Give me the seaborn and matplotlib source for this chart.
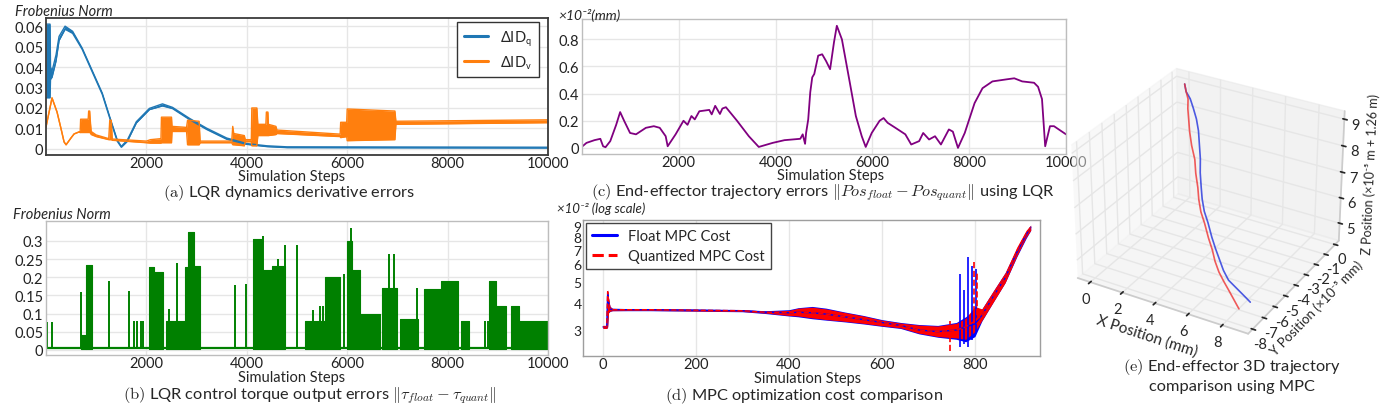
import matplotlib
matplotlib.use('Agg')
import matplotlib.pyplot as plt
import seaborn as sns

# ---------------- data ----------------
# (a) LQR dynamics derivative errors: envelopes (step, low, high)
dq_steps = [0, 80, 90, 120, 200, 260, 380, 530, 720, 920, 1120, 1300, 1420, 1500,
            1620, 1800, 2060, 2320, 2520, 2860, 3200, 3600, 4000, 4400, 4800, 10000]
dq_lo = [0.025, 0.025, 0.034, 0.035, 0.043, 0.053, 0.0585, 0.0565, 0.0487, 0.0377,
         0.0267, 0.0127, 0.0037, 0.0008, 0.0037, 0.0127, 0.0192, 0.0210, 0.0197,
         0.0143, 0.0095, 0.0047, 0.0022, 0.0011, 0.0006, 0.0004]
dq_hi = [0.061, 0.061, 0.040, 0.038, 0.046, 0.055, 0.0600, 0.0575, 0.0493, 0.0383,
         0.0273, 0.0133, 0.0043, 0.0012, 0.0043, 0.0133, 0.0198, 0.0220, 0.0203,
         0.0149, 0.0101, 0.0053, 0.0026, 0.0015, 0.0010, 0.0008]

dv_steps = [0, 120, 220, 300, 360, 400, 500, 560, 660, 680, 690, 840, 850, 870, 880,
            900, 1000, 1250, 1270, 1300, 1320, 2000, 2080, 2290, 2300, 2500, 2510,
            2800, 2820, 3050, 3070, 3700, 3720, 3740, 3950, 3970, 4090, 4100, 4200,
            4220, 4380, 4390, 4420, 4430, 4580, 4600, 5860, 5870, 5990, 6000, 6950,
            6970, 10000]
dv_lo = [0.0107, 0.0249, 0.018, 0.0098, 0.0034, 0.002, 0.0054, 0.0073, 0.0083, 0.008,
         0.008, 0.008, 0.008, 0.008, 0.008, 0.007, 0.006, 0.0045, 0.0045, 0.0045,
         0.0042, 0.003, 0.0028, 0.0028, 0.003, 0.003, 0.0085, 0.0085, 0.002, 0.002,
         0.003, 0.003, 0.002, 0.002, 0.0015, 0.0035, 0.0035, 0.0015, 0.0015, 0.0065,
         0.0065, 0.0065, 0.0065, 0.0065, 0.007, 0.0075, 0.006, 0.0055, 0.006, 0.004,
         0.0045, 0.012, 0.0128]
dv_hi = [0.0107, 0.0249, 0.018, 0.0098, 0.0034, 0.002, 0.0054, 0.0073, 0.0083, 0.008,
         0.0145, 0.0145, 0.0185, 0.0185, 0.0145, 0.0085, 0.0068, 0.005, 0.014, 0.014,
         0.0048, 0.0038, 0.0045, 0.005, 0.0155, 0.0155, 0.011, 0.0105, 0.014, 0.0135,
         0.0038, 0.0038, 0.011, 0.0075, 0.0065, 0.0045, 0.0045, 0.020, 0.020, 0.012,
         0.012, 0.018, 0.018, 0.012, 0.011, 0.0092, 0.0072, 0.013, 0.013, 0.0195,
         0.0185, 0.0135, 0.0142]

# (b) LQR control torque output errors: dense blocks and single spikes
torque_base = [0.004, 0.004]
torque_base_steps = [0, 10000]
block_start = [690, 800, 2060, 2160, 2390, 2760, 2830, 2940, 4130, 4300, 4500, 5160,
               5560, 6000, 6100, 6260, 6700, 7060, 7520, 7860, 8260, 8820, 8960, 9260, 9420]
block_end = [800, 910, 2160, 2330, 2760, 2830, 2940, 3060, 4300, 4500, 4760, 5560,
             5860, 6100, 6260, 6660, 7000, 7420, 7860, 8200, 8420, 8960, 9160, 9420, 10000]
block_top = [0.04, 0.235, 0.227, 0.215, 0.08, 0.227, 0.326, 0.232, 0.305, 0.22, 0.23,
             0.08, 0.20, 0.30, 0.22, 0.099, 0.17, 0.085, 0.168, 0.19, 0.08, 0.19, 0.12,
             0.12, 0.08]
spike_steps = [10, 127, 693, 860, 1247, 1660, 1760, 1813, 1893, 1927, 2460, 2607, 3760,
               3993, 4327, 4630, 4770, 4993, 5320, 5450, 5520, 5930, 6080, 6830, 6930,
               7400, 8750, 8800, 8880]
spike_top = [0.078, 0.078, 0.16, 0.23, 0.19, 0.163, 0.08, 0.08, 0.08, 0.08, 0.113, 0.24,
             0.178, 0.181, 0.315, 0.25, 0.29, 0.29, 0.11, 0.12, 0.12, 0.21, 0.337, 0.264,
             0.264, 0.17, 0.08, 0.08, 0.19]

# (c) end-effector trajectory error (x10^-2 mm)
pos_steps = [0, 10, 93, 257, 379, 436, 486, 584, 706, 788, 870, 993, 1116, 1320, 1484,
             1606, 1729, 1770, 1934, 2097, 2180, 2261, 2330, 2424, 2629, 2680, 2752,
             2850, 2900, 2973, 3203, 3447, 3652, 3940, 4184, 4510, 4560, 4609, 4630,
             4674, 4716, 4757, 4799, 4880, 4962, 5043, 5126, 5207, 5265, 5370, 5534,
             5658, 5780, 5862, 5986, 6149, 6231, 6314, 6475, 6680, 6802, 6966, 7049,
             7171, 7294, 7416, 7580, 7662, 7768, 7908, 8111, 8275, 8480, 8768, 8931,
             9095, 9340, 9423, 9504, 9570, 9669, 9752, 10000]
pos_err = [0.02, 0.012, 0.037, 0.057, 0.067, 0.012, 0.005, 0.05, 0.17, 0.264, 0.2,
           0.11, 0.10, 0.148, 0.16, 0.148, 0.086, 0.012, 0.10, 0.20, 0.17, 0.235, 0.21,
           0.27, 0.28, 0.247, 0.31, 0.25, 0.29, 0.30, 0.2, 0.086, 0.007, 0.037, 0.057,
           0.067, 0.10, 0.03, 0.11, 0.21, 0.41, 0.52, 0.545, 0.68, 0.69, 0.64, 0.58,
           0.78, 0.90, 0.80, 0.48, 0.235, 0.086, 0.007, 0.11, 0.2, 0.22, 0.185, 0.148,
           0.10, 0.025, 0.05, 0.11, 0.062, 0.086, 0.025, 0.136, 0.12, 0.0, 0.11, 0.33,
           0.44, 0.49, 0.505, 0.513, 0.49, 0.48, 0.45, 0.36, 0.012, 0.16, 0.16, 0.10]

# (d) MPC optimisation cost (x10^-2, log scale)
mpc_steps = [0, 8, 10, 12, 15, 20, 60, 100, 200, 300, 350, 400, 420, 450, 480, 520,
             560, 600, 640, 680, 720, 760, 780, 800, 815, 840, 865, 890, 910, 920]
float_mid = [3.1, 3.1, 4.4, 4.0, 3.75, 3.72, 3.72, 3.72, 3.70, 3.68, 3.62, 3.6, 3.62,
             3.6, 3.55, 3.45, 3.35, 3.25, 3.15, 3.0, 2.95, 3.0, 3.1, 3.2, 3.5, 4.3,
             5.2, 6.8, 8.2, 8.9]
float_lo = [3.05, 3.05, 3.1, 3.6, 3.65, 3.68, 3.68, 3.68, 3.66, 3.64, 3.57, 3.48, 3.45,
            3.38, 3.33, 3.27, 3.2, 3.12, 3.05, 2.88, 2.78, 2.72, 2.65, 2.8, 3.3, 4.05,
            4.95, 6.5, 7.9, 8.6]
float_hi = [3.15, 3.15, 4.6, 4.2, 3.85, 3.78, 3.76, 3.76, 3.74, 3.72, 3.68, 3.72, 3.8,
            3.85, 3.78, 3.63, 3.5, 3.35, 3.25, 3.18, 3.15, 3.25, 3.45, 3.7, 3.75, 4.55,
            5.5, 7.1, 8.5, 9.0]
quant_mid = [3.1, 3.1, 4.5, 4.1, 3.75, 3.72, 3.72, 3.72, 3.70, 3.68, 3.62, 3.6, 3.62,
             3.6, 3.55, 3.45, 3.35, 3.25, 3.15, 3.0, 2.95, 3.0, 3.1, 3.3, 3.5, 4.3,
             5.2, 6.9, 8.3, 8.9]
quant_lo = [3.05, 3.05, 3.1, 3.62, 3.66, 3.68, 3.69, 3.69, 3.67, 3.65, 3.59, 3.5, 3.48,
            3.41, 3.35, 3.29, 3.22, 3.14, 3.07, 2.9, 2.8, 2.76, 2.72, 2.95, 3.32, 4.05,
            4.95, 6.55, 8.0, 8.6]
quant_hi = [3.15, 3.15, 4.6, 4.2, 3.85, 3.77, 3.75, 3.75, 3.73, 3.71, 3.66, 3.69, 3.78,
            3.82, 3.75, 3.61, 3.48, 3.33, 3.23, 3.16, 3.13, 3.22, 3.4, 3.85, 3.75, 4.55,
            5.5, 7.2, 8.6, 9.1]
float_spike_steps = [768, 776, 785, 793, 802]
float_spike_lo = [2.5, 2.6, 2.5, 2.7, 2.9]
float_spike_hi = [5.4, 4.6, 6.5, 5.9, 5.7]
quant_spike_steps = [746, 797, 805]
quant_spike_lo = [2.4, 3.0, 3.2]
quant_spike_hi = [3.3, 6.2, 5.5]

# (e) 3D end-effector trajectories
float_x = [0.0, 0.3, 0.7, 1.1, 1.5, 1.9, 2.3, 2.7, 3.1, 3.5, 3.9, 4.3, 4.8, 5.3, 5.8,
           6.3, 6.8, 7.3, 7.9, 8.5, 8.9]
float_y = [0.0, -0.3, -0.5, -0.8, -1.1, -1.5, -2.0, -2.5, -3.1, -3.6, -4.1, -4.5, -4.9,
           -5.3, -5.7, -6.1, -6.5, -6.8, -7.0, -7.2, -7.3]
float_z = [8.95, 8.8, 8.65, 8.45, 8.2, 7.95, 7.65, 7.35, 7.1, 6.8, 6.6, 6.35, 6.15,
           5.85, 5.65, 5.5, 5.35, 5.2, 5.1, 5.0, 4.9]
quant_x = [0.0, 0.3, 0.7, 1.1, 1.5, 1.9, 2.3, 2.7, 3.1, 3.5, 3.9, 4.3, 4.8, 5.3, 5.8,
           6.3, 6.8, 7.3, 7.8, 8.3, 8.7]
quant_y = [0.0, -0.3, -0.7, -1.3, -1.8, -2.3, -2.7, -3.0, -3.5, -3.9, -4.4, -4.8, -5.2,
           -5.6, -6.0, -6.5, -6.9, -7.2, -7.5, -7.8, -8.0]
quant_z = [8.95, 8.8, 8.71, 8.6, 8.41, 8.19, 7.86, 7.5, 7.22, 6.89, 6.69, 6.44, 6.24,
           5.94, 5.74, 5.6, 5.45, 5.3, 5.18, 5.05, 4.9]

lqr_xticks = [2000, 4000, 6000, 8000, 10000]
a_yticks = [0, 0.01, 0.02, 0.03, 0.04, 0.05, 0.06]
a_yticklabels = ['0', '0.01', '0.02', '0.03', '0.04', '0.05', '0.06']
b_yticks = [0, 0.05, 0.1, 0.15, 0.2, 0.25, 0.3]
b_yticklabels = ['0', '0.05', '0.1', '0.15', '0.2', '0.25', '0.3']
c_yticks = [0, 0.2, 0.4, 0.6, 0.8]
c_yticklabels = ['0', '0.2', '0.4', '0.6', '0.8']
d_xticks = [0, 200, 400, 600, 800]
d_yticks = [3, 4, 5, 6, 7, 8, 9]
e_xticks = [0, 2, 4, 6, 8]
e_yticks = [0, -1, -2, -3, -4, -5, -6, -7, -8]
e_zticks = [5, 6, 7, 8, 9]

# ---------------- styling ----------------
sns.set_theme(style='whitegrid')
plt.rcParams['font.family'] = ['Lato', 'DejaVu Sans']
plt.rcParams['mathtext.fontset'] = 'cm'
plt.rcParams['grid.color'] = '#e6e6e6'
plt.rcParams['axes.unicode_minus'] = False

W, H = 1381, 406
fig = plt.figure(figsize=(W / 100, H / 100), dpi=100)


def px_box(l, t, r, b):
    return [l / W, 1 - b / H, (r - l) / W, (b - t) / H]


def fig_text(x, y, s, **kw):
    fig.text(x / W, 1 - y / H, s, **kw)


def style_axes(ax, spine_color='#bdbdbd', lw=1.0):
    for sp in ax.spines.values():
        sp.set_color(spine_color)
        sp.set_linewidth(lw)
    ax.tick_params(axis='both', length=0, pad=2, labelsize=10.5, colors='#222222')
    ax.tick_params(axis='x', pad=1)
    ax.set_xlabel('')
    ax.set_ylabel('')


c_blue, c_orange = '#1f77b4', '#ff7f0e'

# (a)
ax_a = fig.add_axes(px_box(46, 19, 548, 156))
ax_a.fill_between(dq_steps, dq_lo, dq_hi, color=c_blue, lw=0)
ax_a.fill_between(dv_steps, dv_lo, dv_hi, color=c_orange, lw=0)
for y in (dq_lo, dq_hi):
    sns.lineplot(x=dq_steps, y=y, ax=ax_a, color=c_blue, lw=1.0, estimator=None, sort=False)
for y in (dv_lo, dv_hi):
    sns.lineplot(x=dv_steps, y=y, ax=ax_a, color=c_orange, lw=1.0, estimator=None, sort=False)
ax_a.set_xlim(0, 10000)
ax_a.set_ylim(-0.003, 0.064)
ax_a.set_xticks(lqr_xticks)
ax_a.set_yticks(a_yticks, a_yticklabels)
style_axes(ax_a, '#3a3a3a', 1.3)
h_q, = ax_a.plot([], [], color=c_blue, lw=2.2)
h_v, = ax_a.plot([], [], color=c_orange, lw=2.2)
ax_a.legend([h_q, h_v], [r'ΔID$_{\mathsf{q}}$', r'ΔID$_{\mathsf{v}}$'], loc='upper right',
            bbox_to_anchor=(539 / W, 1 - 23 / H), bbox_transform=fig.transFigure,
            borderaxespad=0, fancybox=False, edgecolor='#333333', fontsize=10.5,
            handlelength=1.7, labelspacing=0.35, borderpad=0.45, framealpha=1)

# (b)
ax_b = fig.add_axes(px_box(46, 222, 548, 356))
for s, e, t in zip(block_start, block_end, block_top):
    ax_b.fill_between([s, e], 0.002, t, color='green', lw=0.8, edgecolor='green')
ax_b.vlines(spike_steps, 0.002, spike_top, color='green', lw=1.4)
sns.lineplot(x=torque_base_steps, y=torque_base, ax=ax_b, color='green', lw=1.6)
ax_b.set_xlim(0, 10000)
ax_b.set_ylim(-0.014, 0.355)
ax_b.set_xticks(lqr_xticks)
ax_b.set_yticks(b_yticks, b_yticklabels)
style_axes(ax_b)

# (c)
ax_c = fig.add_axes(px_box(582, 20, 1066, 155))
sns.lineplot(x=pos_steps, y=pos_err, ax=ax_c, color='purple', lw=1.3, estimator=None, sort=False)
ax_c.set_xlim(0, 10000)
ax_c.set_ylim(-0.045, 0.95)
ax_c.set_xticks(lqr_xticks)
ax_c.set_yticks(c_yticks, c_yticklabels)
style_axes(ax_c)

# (d)
ax_d = fig.add_axes(px_box(583, 221, 1040, 357))
ax_d.set_yscale('log')
ax_d.fill_between(mpc_steps, float_lo, float_hi, color='blue', lw=0)
ax_d.vlines(float_spike_steps, float_spike_lo, float_spike_hi, color='blue', lw=1.2)
ax_d.fill_between(mpc_steps, quant_lo, quant_hi, color='red', lw=0)
ax_d.vlines(quant_spike_steps, quant_spike_lo, quant_spike_hi, color='red', lw=1.2,
            linestyles='--')
sns.lineplot(x=mpc_steps, y=float_mid, ax=ax_d, color='blue', lw=1.0, estimator=None,
             sort=False, label='Float MPC Cost')
sns.lineplot(x=mpc_steps, y=quant_mid, ax=ax_d, color='red', lw=1.0, estimator=None,
             sort=False, linestyle='--', label='Quantized MPC Cost')
ax_d.set_xlim(-43, 940)
ax_d.set_ylim(2.28, 9.6)
ax_d.set_xticks(d_xticks)
ax_d.set_yticks(d_yticks, [str(v) for v in d_yticks])
ax_d.yaxis.set_minor_locator(matplotlib.ticker.NullLocator())
ax_d.grid(False, axis='y')
style_axes(ax_d, '#9e9e9e')
ax_d.tick_params(axis='y', pad=1, labelsize=10)
leg = ax_d.legend(loc='upper left', bbox_to_anchor=(586 / W, 1 - 224 / H),
                  bbox_transform=fig.transFigure, borderaxespad=0, fancybox=False,
                  edgecolor='#444444', fontsize=10.5, handlelength=1.7,
                  labelspacing=0.4, borderpad=0.4, framealpha=1)
for ln in leg.get_lines():
    ln.set_linewidth(2.2)

# (e) 3D
ax_e = fig.add_axes(px_box(1044, 47, 1369, 353), projection='3d')
ax_e.set_facecolor('none')
ax_e.set_box_aspect((4, 4, 3.1))
ax_e.plot(float_x, float_y, float_z, color='#2233dd', lw=1.2, alpha=0.8)
ax_e.plot(quant_x, quant_y, quant_z, color='#ee3333', lw=1.2, alpha=0.8)
ax_e.set_xlim(-0.8, 9.5)
ax_e.set_ylim(-8.4, 0.4)
ax_e.set_zlim(4.3, 9.3)
ax_e.set_xticks(e_xticks)
ax_e.set_yticks(e_yticks)
ax_e.set_zticks(e_zticks)
ax_e.tick_params(labelsize=10.5, pad=-3)
ax_e.set_xlabel('X Position (mm)', fontsize=11, labelpad=-6)
ax_e.set_ylabel('Y Position (×10⁻⁵ mm)', fontsize=9.5, labelpad=-7)
ax_e.set_zlabel('Z Position (×10⁻⁵ m + 1.26 m)', fontsize=9, labelpad=-8)
ax_e.view_init(elev=30, azim=-60)

# axis annotations and captions
fig_text(15, 12, 'Frobenius Norm', fontsize=10.5, style='italic', va='center')
fig_text(13, 215, 'Frobenius Norm', fontsize=10.5, style='italic', va='center')
fig_text(558, 15, '×10⁻²(mm)', fontsize=10, style='italic', va='center')
fig_text(557, 209, '×10⁻² (log scale)', fontsize=9.5, style='italic', va='center')

for x, y in [(292, 177), (292, 378), (831, 176), (808, 379)]:
    fig_text(x, y, 'Simulation Steps', fontsize=10.5, ha='center', va='center')

cap = dict(fontsize=11.8, ha='center', va='center')
fig_text(289, 193, r'$\mathrm{(a)}$ LQR dynamics derivative errors', **cap)
fig_text(310, 396, r'$\mathrm{(b)}$ LQR control torque output errors '
         r'$\|\tau_{float}-\tau_{quant}\|$', **cap)
fig_text(823, 193, r'$\mathrm{(c)}$ End-effector trajectory errors '
         r'$\|Pos_{float}-Pos_{quant}\|$ using LQR', **cap)
fig_text(804, 396, r'$\mathrm{(d)}$ MPC optimization cost comparison', **cap)
fig_text(1232, 367, r'$\mathrm{(e)}$ End-effector 3D trajectory', **cap)
fig_text(1232, 387, 'comparison using MPC', **cap)

fig.savefig('out.png', dpi=100)
